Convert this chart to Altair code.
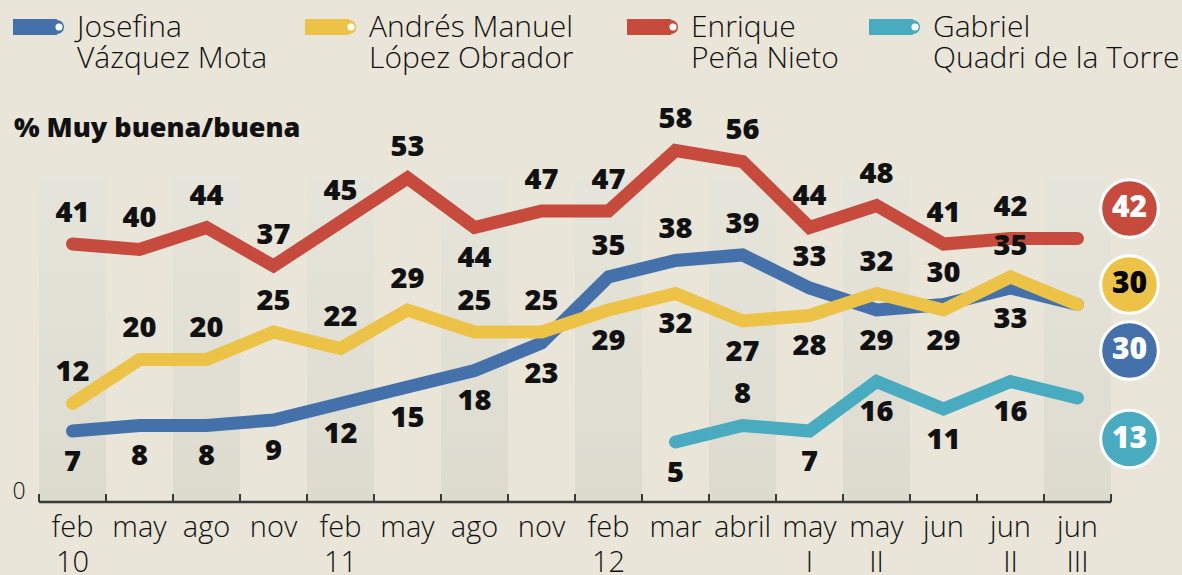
import altair as alt
import pandas as pd
import math

# ---------------- data ----------------
CATS = ["feb\n10", "may", "ago", "nov", "feb\n11", "may", "ago", "nov",
        "feb\n12", "mar", "abril", "may\nI", "may\nII", "jun", "jun\nII", "jun\nIII"]

JVM = [7, 8, 8, 9, 12, 15, 18, 23, 35, 38, 39, 33, 29, 30, 33, 30]
AMLO = [12, 20, 20, 25, 22, 29, 25, 25, 29, 32, 27, 28, 32, 29, 35, 30]
EPN = [41, 40, 44, 37, 45, 53, 44, 47, 47, 58, 56, 44, 48, 41, 42, 42]
GQT = [None] * 9 + [5, 8, 7, 16, 11, 16, 13]

# label placement: 1 above the line, -1 below, 0 none
JVM_POS = [-1, -1, -1, -1, -1, -1, -1, -1, 1, 1, 1, 1, -1, 1, -1, 0]
AMLO_POS = [1, 1, 1, 1, 1, 1, 1, 1, -1, -1, -1, -1, 1, -1, 1, 0]
EPN_POS = [1, 1, 1, 1, 1, 1, -1, 1, 1, 1, 1, 1, 1, 1, 1, 0]
GQT_POS = [0] * 9 + [-1, 1, -1, -1, -1, -1, 0]

STRIPED = [0, 2, 4, 6, 8, 10, 12, 15]

NAMES = ["Josefina\nVázquez Mota", "Andrés Manuel\nLópez Obrador",
         "Enrique\nPeña Nieto", "Gabriel\nQuadri de la Torre"]

# ---------------- style ----------------
BG = "#e9e5d8"
COLORS = ["#4471aa", "#ecc347", "#c64b3d", "#48abbf"]
END_TEXT = ["white", "black", "white", "white"]
END_DY = [46, -20, -30, 41]
LEGEND_X = [13, 305, 627, 869]
LEFT = 39
W, H = 1072, 502
FONT = "Open Sans"
LIGHT = 300
HEAVY = 800

X_SCALE = alt.Scale(domain=[-0.5, 15.5], nice=False, zero=False)
Y_SCALE = alt.Scale(domain=[-5.91, 85.36], nice=False, zero=False)

series = [JVM, AMLO, EPN, GQT]
positions = [JVM_POS, AMLO_POS, EPN_POS, GQT_POS]

layers = []

# stripes
stripes = pd.DataFrame({"x0": [i - 0.5 for i in STRIPED], "x1": [i + 0.5 for i in STRIPED]})
grad = alt.Gradient(gradient="linear",
                    stops=[alt.GradientStop(color="#e6e5db", offset=0),
                           alt.GradientStop(color="#dddbce", offset=1)],
                    x1=0, x2=0, y1=0, y2=1)
layers.append(alt.Chart(stripes).mark_rect(color=grad).encode(
    x=alt.X("x0:Q", scale=X_SCALE, axis=None),
    x2="x1:Q",
    y=alt.value(177), y2=alt.value(H)))

# axis line and ticks
one = pd.DataFrame({"a": [0]})
layers.append(alt.Chart(one).mark_rule(color="#3a3a3a", strokeWidth=2.5).encode(
    x=alt.value(0), x2=alt.value(W), y=alt.value(H)))
ticks = pd.DataFrame({"b": [i - 0.5 for i in range(len(CATS) + 1)]})
layers.append(alt.Chart(ticks).mark_rule(color="#3a3a3a", strokeWidth=2).encode(
    x=alt.X("b:Q", scale=X_SCALE, axis=None), y=alt.value(H - 8), y2=alt.value(H)))

# x labels
xl = pd.DataFrame({"i": list(range(len(CATS))), "lab": CATS})
layers.append(alt.Chart(xl).mark_text(font=FONT, fontWeight=LIGHT, fontSize=29, color="#111",
                                      lineBreak="\n", lineHeight=35, baseline="alphabetic",
                                      align="center").encode(
    x=alt.X("i:Q", scale=X_SCALE, axis=None), y=alt.value(H + 35), text="lab:N"))

# zero label
layers.append(alt.Chart(one).mark_text(text="0", font=FONT, fontWeight=LIGHT, fontSize=23,
                                       color="#111", align="center", baseline="alphabetic").encode(
    x=alt.value(19 - LEFT), y=alt.value(499)))

# title
layers.append(alt.Chart(one).mark_text(text="% Muy buena/buena", font=FONT, fontWeight=HEAVY,
                                       fontSize=27, color="#111", align="left",
                                       baseline="alphabetic").encode(
    x=alt.value(14 - LEFT), y=alt.value(137)))

# lines
order = [0, 1, 3, 2]
for k in order:
    vals = series[k]
    df = pd.DataFrame({"i": list(range(len(CATS))), "v": vals}).dropna()
    layers.append(alt.Chart(df).mark_line(color=COLORS[k], strokeWidth=13, strokeCap="round",
                                          strokeJoin="miter").encode(
        x=alt.X("i:Q", scale=X_SCALE, axis=None),
        y=alt.Y("v:Q", scale=Y_SCALE, axis=None)))

# value labels
for k in range(4):
    df = pd.DataFrame({"i": list(range(len(CATS))), "v": series[k], "p": positions[k]}).dropna()
    df["t"] = df["v"].astype(int).astype(str)
    for sign, dy in [(1, -31), (-1, 31)]:
        sub = df[df["p"] == sign]
        if len(sub) == 0:
            continue
        layers.append(alt.Chart(sub).mark_text(font=FONT, fontWeight=HEAVY, fontSize=29,
                                               color="#111", baseline="middle", dy=dy).encode(
            x=alt.X("i:Q", scale=X_SCALE, axis=None),
            y=alt.Y("v:Q", scale=Y_SCALE, axis=None),
            text="t:N"))

# end circles
for k in range(4):
    last = len(CATS) - 1
    df = pd.DataFrame({"i": [last], "v": [series[k][last]]})
    df["t"] = df["v"].astype(int).astype(str)
    layers.append(alt.Chart(df).mark_circle(color=COLORS[k], opacity=1, size=math.pi * 32.5 ** 2,
                                            stroke="white", strokeWidth=3,
                                            xOffset=52, yOffset=END_DY[k]).encode(
        x=alt.X("i:Q", scale=X_SCALE, axis=None),
        y=alt.Y("v:Q", scale=Y_SCALE, axis=None)))
    layers.append(alt.Chart(df).mark_text(font=FONT, fontWeight=HEAVY, fontSize=30,
                                          color=END_TEXT[k], baseline="middle",
                                          dx=52, dy=END_DY[k]).encode(
        x=alt.X("i:Q", scale=X_SCALE, axis=None),
        y=alt.Y("v:Q", scale=Y_SCALE, axis=None),
        text="t:N"))

# legend
for k in range(4):
    lx = LEGEND_X[k] - LEFT
    layers.append(alt.Chart(one).mark_rule(color=COLORS[k], strokeWidth=16, strokeCap="butt").encode(
        x=alt.value(lx), x2=alt.value(lx + 44), y=alt.value(27)))
    layers.append(alt.Chart(one).mark_circle(color=COLORS[k], opacity=1, size=math.pi * 8 ** 2).encode(
        x=alt.value(lx + 44), y=alt.value(27)))
    layers.append(alt.Chart(one).mark_circle(color="white", opacity=1, size=math.pi * 4 ** 2).encode(
        x=alt.value(lx + 46), y=alt.value(27)))
    layers.append(alt.Chart(one).mark_text(text=NAMES[k], font=FONT, fontWeight=LIGHT, fontSize=30,
                                           color="#111", align="left", baseline="alphabetic",
                                           lineBreak="\n", lineHeight=31).encode(
        x=alt.value(lx + 64), y=alt.value(37)))

chart = alt.layer(*layers).properties(
    width=W, height=H,
    padding={"left": LEFT, "top": 0, "right": 1182 - LEFT - W, "bottom": 575 - H},
    autosize=alt.AutoSizeParams(type="none"),
    background=BG,
).configure_view(stroke=None)

chart.save("out.html", embed_options={"renderer": "svg", "actions": False})
